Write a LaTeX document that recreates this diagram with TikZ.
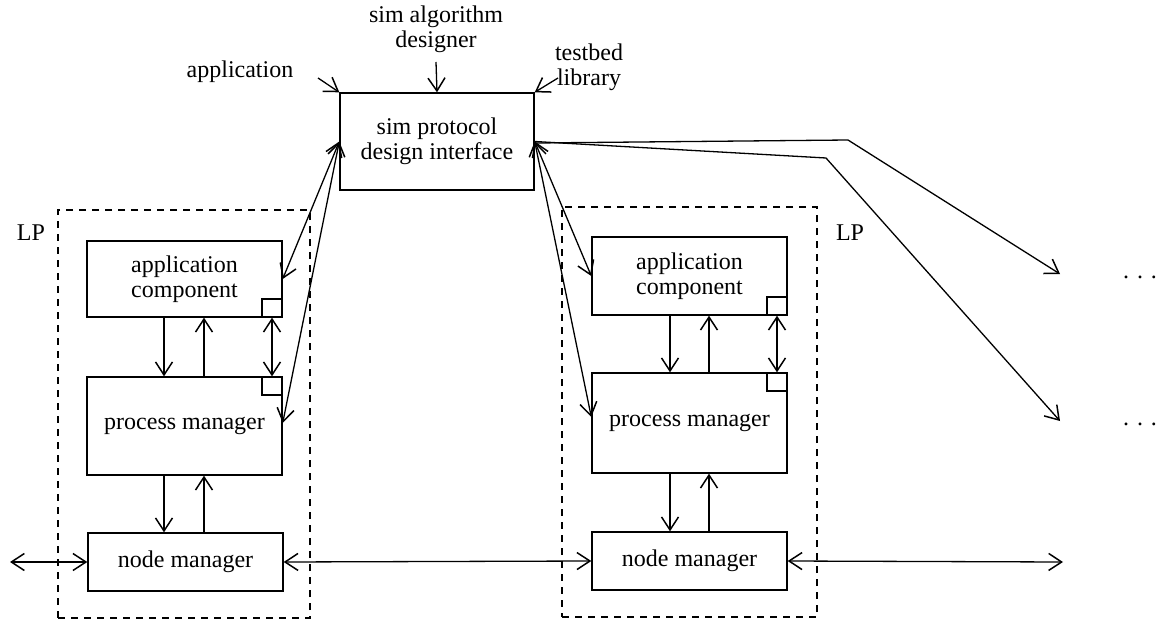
\documentclass[tikz,border=0pt]{standalone}
\usepackage{fontspec}
\setmainfont{Liberation Serif}
\usetikzlibrary{arrows.meta}
\begin{document}
\begin{tikzpicture}[x=1pt,y=-1pt,
  every node/.style={font=\fontsize{24}{25}\selectfont, inner sep=0pt},
  box/.style={draw, line width=1.4pt, align=center},
  sq/.style={draw, line width=1.4pt, minimum width=20pt, minimum height=18pt},
  lpbox/.style={draw, dashed, line width=1.3pt, dash pattern=on 7pt off 6pt},
  lbl/.style={align=center},
  tip/.tip={Straight Barb[length=13pt,width=17pt,line width=1.5pt]},
  conn/.style={line width=1.3pt, -tip},
  conn2/.style={line width=1.3pt, tip-tip}
]
\useasboundingbox (0,0) rectangle (1162,623);
% LP boxes
\node[lpbox, minimum width=252pt, minimum height=408pt] (lp1) at (184,414) {};
\node[lpbox, minimum width=255pt, minimum height=410pt] (lp2) at (689.5,412) {};
\node (lpl1) at (31,233) {LP};
\node (lpl2) at (850,233) {LP};
% top
\node[box, minimum width=194pt, minimum height=97pt] (sim) at (437,141.5) {sim protocol\\design interface};
\node[lbl] (app) at (240,72) {application};
\node[lbl] (des) at (436,29) {sim algorithm\\designer};
\node[lbl] (tb) at (589,67) {testbed\\library};
\coordinate (appc) at (318,78);
\coordinate (desc) at (436,62);
\coordinate (tbc) at (558,78);
\draw[conn] (appc) -- (sim.north west);
\draw[conn] (desc) -- (sim.north);
\draw[conn] (tbc) -- (sim.north east);
% left LP
\node[box, minimum width=195pt, minimum height=76pt] (ac1) at (184.5,279) {application\\component};
\node[box, minimum width=195pt, minimum height=98pt] (pm1) at (184.5,426) {process manager};
\node[box, minimum width=195pt, minimum height=58pt] (nm1) at (185.5,562) {node manager};
\node[sq, anchor=south east] (sq1a) at (ac1.south east) {};
\node[sq, anchor=north east] (sq1b) at (pm1.north east) {};
% right LP
\node[box, minimum width=195pt, minimum height=78pt] (ac2) at (689.5,276) {application\\component};
\node[box, minimum width=195pt, minimum height=100pt] (pm2) at (689.5,423) {process manager};
\node[box, minimum width=195pt, minimum height=58pt] (nm2) at (689.5,561) {node manager};
\node[sq, anchor=south east] (sq2a) at (ac2.south east) {};
\node[sq, anchor=north east] (sq2b) at (pm2.north east) {};
% vertical connectors left
\draw[conn] (ac1.south -| 164,0) -- (pm1.north -| 164,0);
\draw[conn] (pm1.north -| 204,0) -- (ac1.south -| 204,0);
\draw[conn] (pm1.south -| 164,0) -- (nm1.north -| 164,0);
\draw[conn] (nm1.north -| 204,0) -- (pm1.south -| 204,0);
\draw[conn2] (sq1a) -- (sq1b);
% vertical connectors right
\draw[conn] (ac2.south -| 670,0) -- (pm2.north -| 670,0);
\draw[conn] (pm2.north -| 709,0) -- (ac2.south -| 709,0);
\draw[conn] (pm2.south -| 670,0) -- (nm2.north -| 670,0);
\draw[conn] (nm2.north -| 709,0) -- (pm2.south -| 709,0);
\draw[conn2] (sq2a) -- (sq2b);
% sim to components
\draw[conn2] (sim.west) -- (ac1.east);
\draw[conn2] (sim.west) -- ([yshift=3pt]pm1.east);
\draw[conn2] (sim.east) -- (ac2.west);
\draw[conn2] (sim.east) -- ([yshift=6pt]pm2.west);
% sim to other LPs
\coordinate (b1) at (848,140);
\coordinate (e1) at (1060,274);
\coordinate (b2) at (826,158);
\coordinate (e2) at (1060,421);
\node (dots1) at (1140,277) {.\hspace{8pt}.\hspace{8pt}.};
\node (dots2) at (1140,424) {.\hspace{8pt}.\hspace{8pt}.};
\draw[conn] ([yshift=-1.5pt]sim.east) -- (b1) -- (e1);
\draw[conn] (sim.east) -- (b2) -- (e2);
% node manager links
\coordinate (ln) at (10,562);
\coordinate (rn) at (1063,562);
\draw[conn2] (ln) -- (nm1.west);
\draw[conn2] (nm1.east) -- (nm2.west);
\draw[conn2] (nm2.east) -- (rn);
\end{tikzpicture}
\end{document}
